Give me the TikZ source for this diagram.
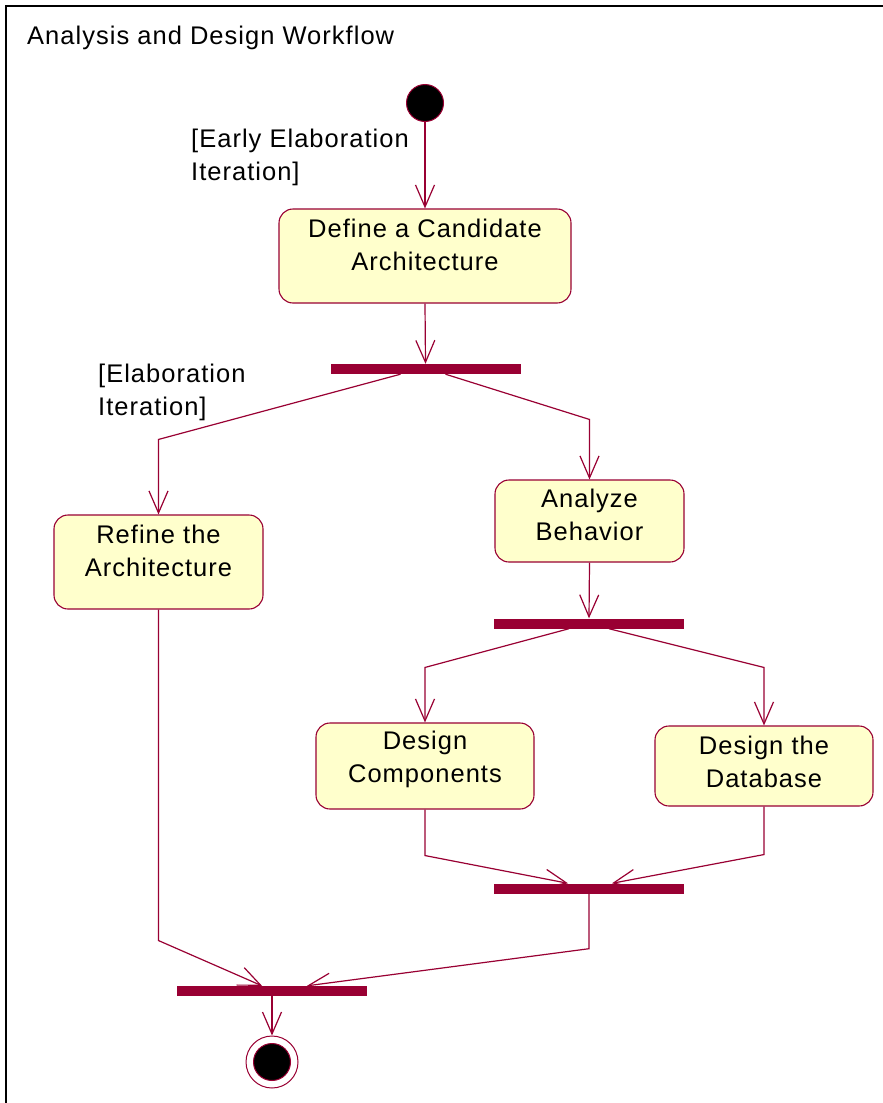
\documentclass[tikz,border=0pt]{standalone}
\usepackage{fontspec}
\setmainfont{Liberation Sans}[LetterSpace=4]
\usetikzlibrary{arrows.meta,calc}
\definecolor{crim}{HTML}{990033}
\definecolor{pale}{HTML}{FFFFCC}
\begin{document}
\begin{tikzpicture}[x=1pt,y=-1pt,
  actbox/.style={draw=crim, fill=pale, line width=1.1pt, rounded corners=14pt, inner sep=0pt},
  txt/.style={align=center, inner sep=0pt, font=\fontsize{25.5}{33}\selectfont},
  syncbar/.style={fill=crim, draw=none, minimum width=190pt, minimum height=10pt, inner sep=0pt},
  flow/.style={draw=crim, line width=1.2pt, -{Straight Barb[length=22pt,width=19pt]}},
  startdot/.style={circle, fill=black, draw=crim, line width=1pt, minimum size=37pt, inner sep=0pt},
  endring/.style={circle, fill=white, draw=crim, line width=1pt, minimum size=52pt, inner sep=0pt},
  enddot/.style={circle, fill=black, draw=crim, line width=1pt, minimum size=37pt, inner sep=0pt}]
\useasboundingbox (0,0) rectangle (883,1103);
\clip (0,0) rectangle (883,1103);
\fill[white] (0,0) rectangle (883,1103);
\draw[line width=2.6pt] (6,6) rectangle (900,1120);
\node[txt, anchor=west] (title) at (27,38) {Analysis and Design Workflow};

% initial / final
\node[startdot] (start) at (425,103) {};
\node[endring] (final) at (272,1062) {};
\node[enddot] (finaldot) at (272,1062) {};

% activities
\node[actbox, minimum width=292pt, minimum height=94pt] (define) at (425,256) {};
\node[txt] (defineT) at (425,245) {Define a Candidate\\Architecture};
\node[actbox, minimum width=209pt, minimum height=94pt] (refine) at (158.5,562) {};
\node[txt] (refineT) at (158.5,551) {Refine the\\Architecture};
\node[actbox, minimum width=189pt, minimum height=82pt] (analyze) at (589.5,521) {};
\node[txt] (analyzeT) at (589.5,515) {Analyze\\Behavior};
\node[actbox, minimum width=218pt, minimum height=86pt] (comp) at (425,766) {};
\node[txt] (compT) at (425,759) {Design\\Components};
\node[actbox, minimum width=218pt, minimum height=80pt] (db) at (764,766) {};
\node[txt] (dbT) at (764,762) {Design the\\Database};

% synchronisation bars
\node[syncbar] (bar1) at (425.5,369) {};
\node[syncbar] (bar2) at (589,623.5) {};
\node[syncbar] (bar3) at (589,888.5) {};
\node[syncbar] (finalbar) at (272,991) {};

% guards
\node[txt, align=left, anchor=west] (g1) at (191,157) {[Early Elaboration\\Iteration]};
\node[txt, align=left, anchor=west] (g2) at (98,392) {[Elaboration\\Iteration]};

% flows
\draw[flow] (start.south) -- (define.north);
\draw[flow] (define.south) -- (bar1.north);
\draw[flow] ([xshift=-25pt]bar1.south) -- ([yshift=75pt]refine.north) -- (refine.north);
\draw[flow] ([xshift=20pt]bar1.south) -- ([yshift=60pt]analyze.north) -- (analyze.north);
\draw[flow] (analyze.south) -- (bar2.north);
\draw[flow] ([xshift=-20pt]bar2.south) -- ([yshift=55pt]comp.north) -- (comp.north);
\draw[flow] ([xshift=20pt]bar2.south) -- ([yshift=58pt]db.north) -- (db.north);
\draw[flow] (comp.south) -- ([yshift=-46pt]comp.south) -- ([xshift=-21pt]bar3.north);
\draw[flow] (db.south) -- ([yshift=-48pt]db.south) -- ([xshift=23pt]bar3.north);
\draw[flow] (bar3.south) -- ([yshift=-55pt]bar3.south) -- ([xshift=35pt]finalbar.north);
\draw[flow] (refine.south) -- ([yshift=-331pt]refine.south) -- ([xshift=-10pt]finalbar.north);
\draw[flow] (finalbar.south) -- (final.north);
\end{tikzpicture}
\end{document}
